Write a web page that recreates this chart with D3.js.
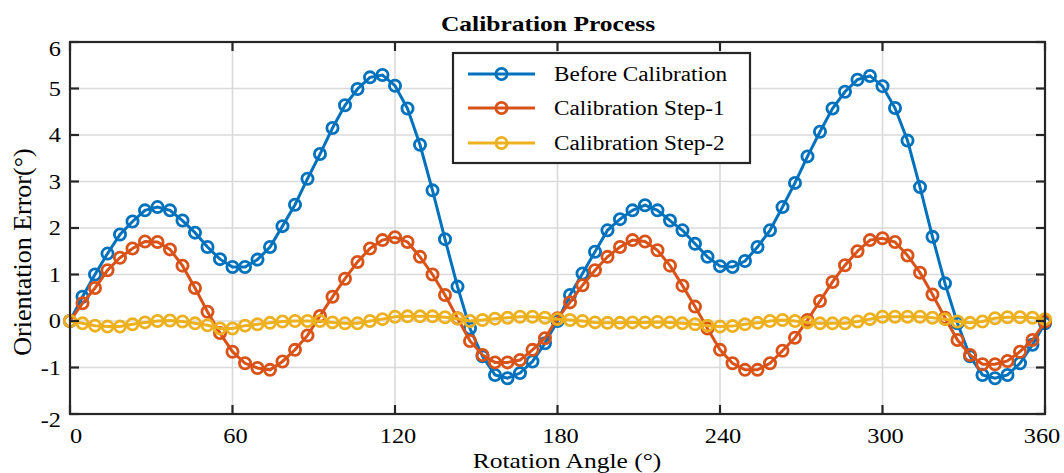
<!DOCTYPE html>
<html>
<head>
<meta charset="utf-8">
<script src="https://cdn.jsdelivr.net/npm/d3@7"></script>
<style>
  body { margin: 0; background: #fff; }
  text { font-family: "Liberation Serif", "Times New Roman", serif; fill: #000; }
</style>
</head>
<body>
<div class="calib-plot"></div>
<script>

const angles = [0, 4.62, 9.23, 13.85, 18.46, 23.08, 27.69, 32.31, 36.92, 41.54, 46.15, 50.77, 55.38,
  60, 64.62, 69.23, 73.85, 78.46, 83.08, 87.69, 92.31, 96.92, 101.54, 106.15, 110.77, 115.38,
  120, 124.62, 129.23, 133.85, 138.46, 143.08, 147.69, 152.31, 156.92, 161.54, 166.15, 170.77, 175.38,
  180, 184.62, 189.23, 193.85, 198.46, 203.08, 207.69, 212.31, 216.92, 221.54, 226.15, 230.77, 235.38,
  240, 244.62, 249.23, 253.85, 258.46, 263.08, 267.69, 272.31, 276.92, 281.54, 286.15, 290.77, 295.38,
  300, 304.62, 309.23, 313.85, 318.46, 323.08, 327.69, 332.31, 336.92, 341.54, 346.15, 350.77, 355.38, 360];

const beforeCal = [0, 0.52, 1.0, 1.45, 1.86, 2.14, 2.38, 2.45, 2.38, 2.16, 1.9, 1.59, 1.33,
  1.16, 1.16, 1.32, 1.59, 2.04, 2.5, 3.06, 3.59, 4.15, 4.64, 4.99, 5.24, 5.29,
  5.06, 4.57, 3.79, 2.81, 1.76, 0.74, -0.16, -0.76, -1.16, -1.23, -1.12, -0.87, -0.48,
  0.0, 0.56, 1.02, 1.49, 1.95, 2.19, 2.38, 2.49, 2.38, 2.16, 1.95, 1.66, 1.38,
  1.18, 1.16, 1.29, 1.59, 1.95, 2.45, 2.97, 3.54, 4.07, 4.57, 4.93, 5.19, 5.27,
  5.05, 4.58, 3.88, 2.88, 1.81, 0.81, -0.05, -0.76, -1.16, -1.23, -1.16, -0.91, -0.51, -0.05];

const calStep1 = [0, 0.38, 0.71, 1.09, 1.36, 1.56, 1.71, 1.70, 1.54, 1.19, 0.71, 0.2, -0.26,
  -0.66, -0.91, -1.01, -1.05, -0.87, -0.62, -0.31, 0.11, 0.52, 0.91, 1.27, 1.56, 1.74,
  1.80, 1.70, 1.38, 1.0, 0.56, 0.06, -0.43, -0.73, -0.89, -0.89, -0.84, -0.62, -0.37,
  0.06, 0.4, 0.77, 1.09, 1.38, 1.59, 1.74, 1.71, 1.52, 1.19, 0.76, 0.31, -0.16,
  -0.62, -0.91, -1.05, -1.05, -0.91, -0.64, -0.36, 0.02, 0.43, 0.84, 1.2, 1.5, 1.74,
  1.78, 1.7, 1.41, 1.04, 0.57, 0.07, -0.41, -0.73, -0.93, -0.93, -0.86, -0.66, -0.41, -0.01];

const calStep2 = [0, -0.05, -0.1, -0.12, -0.12, -0.07, -0.03, 0, 0.01, -0.01, -0.05, -0.09, -0.16,
  -0.16, -0.1, -0.07, -0.04, -0.01, 0, 0, 0, -0.03, -0.05, -0.05, 0, 0.04,
  0.09, 0.1, 0.1, 0.1, 0.08, 0.05, 0.0, 0.02, 0.05, 0.07, 0.09, 0.09, 0.07,
  0.04, 0.02, 0, -0.03, -0.04, -0.04, -0.03, -0.03, -0.02, -0.03, -0.05, -0.07, -0.1,
  -0.12, -0.11, -0.07, -0.04, 0, 0.02, 0, -0.03, -0.05, -0.05, -0.05, -0.01, 0.04,
  0.09, 0.09, 0.09, 0.09, 0.07, 0.04, -0.01, -0.04, -0.01, 0.06, 0.08, 0.08, 0.07, 0.04];

const seriesNames = ['Before Calibration', 'Calibration Step-1', 'Calibration Step-2'];
const seriesColors = ['#0072BD', '#D95319', '#EDB120'];
const xTicks = [0, 60, 120, 180, 240, 300, 360];
const yTicks = [-2, -1, 0, 1, 2, 3, 4, 5, 6];

const width = 1064;
const height = 473;
const m_left = 70, m_right = 1045, m_top = 42, m_bottom = 414;
const tick_len = 9;
const stretch = 1.16; // text in the source looks a bit wide

const svg = d3
  .select('.calib-plot')
  .append('svg')
  .attr('width', width)
  .attr('height', height);

const x = d3.scaleLinear().domain([0, 360]).range([m_left, m_right]);
const y = d3.scaleLinear().domain([-2, 6]).range([m_bottom, m_top]);

const place = (px, py) => `translate(${px},${py}) scale(${stretch},1)`;

// grid
svg.selectAll('.xgrid')
  .data(xTicks.slice(1, -1))
  .enter()
  .append('line')
  .attr('x1', d => x(d)).attr('x2', d => x(d))
  .attr('y1', m_top).attr('y2', m_bottom)
  .attr('stroke', '#dadada')
  .attr('stroke-width', 1.6);

svg.selectAll('.ygrid')
  .data(yTicks.slice(1, -1))
  .enter()
  .append('line')
  .attr('x1', m_left).attr('x2', m_right)
  .attr('y1', d => y(d)).attr('y2', d => y(d))
  .attr('stroke', '#dadada')
  .attr('stroke-width', 1.6);

// series
const allSeries = [beforeCal, calStep1, calStep2];
const line = d3.line()
  .x((d, i) => x(angles[i]))
  .y(d => y(d));

allSeries.forEach((vals, k) => {
  const g = svg.append('g');
  g.append('path')
    .datum(vals)
    .attr('d', line)
    .attr('fill', 'none')
    .attr('stroke', seriesColors[k])
    .attr('stroke-width', 3);
  g.selectAll('circle')
    .data(vals)
    .enter()
    .append('circle')
    .attr('cx', (d, i) => x(angles[i]))
    .attr('cy', d => y(d))
    .attr('r', 5.6)
    .attr('fill', 'none')
    .attr('stroke', seriesColors[k])
    .attr('stroke-width', 2.8);
});

// axes box and inward ticks
svg.append('rect')
  .attr('x', m_left).attr('y', m_top)
  .attr('width', m_right - m_left).attr('height', m_bottom - m_top)
  .attr('fill', 'none')
  .attr('stroke', '#262626')
  .attr('stroke-width', 2.2);

const tickG = svg.append('g').attr('stroke', '#262626').attr('stroke-width', 2.2);
tickG.selectAll('.xtb')
  .data(xTicks)
  .enter()
  .append('line')
  .attr('x1', d => x(d)).attr('x2', d => x(d))
  .attr('y1', m_bottom).attr('y2', m_bottom - tick_len);
tickG.selectAll('.xtt')
  .data(xTicks)
  .enter()
  .append('line')
  .attr('x1', d => x(d)).attr('x2', d => x(d))
  .attr('y1', m_top).attr('y2', m_top + tick_len);
tickG.selectAll('.ytl')
  .data(yTicks)
  .enter()
  .append('line')
  .attr('x1', m_left).attr('x2', m_left + tick_len)
  .attr('y1', d => y(d)).attr('y2', d => y(d));
tickG.selectAll('.ytr')
  .data(yTicks)
  .enter()
  .append('line')
  .attr('x1', m_right).attr('x2', m_right - tick_len)
  .attr('y1', d => y(d)).attr('y2', d => y(d));

// tick labels
svg.selectAll('.xlab')
  .data(xTicks)
  .enter()
  .append('text')
  .text(d => d)
  .attr('transform', (d, i) => place(x(d) + (i == 0 ? 6 : (i == xTicks.length - 1 ? -3 : 3)), 443))
  .attr('text-anchor', 'middle')
  .attr('font-size', 21);

svg.selectAll('.ylab')
  .data(yTicks)
  .enter()
  .append('text')
  .text(d => d)
  .attr('transform', d => place(61, y(d) + (d == 6 ? 14 : (d == -2 ? 13 : 7))))
  .attr('text-anchor', 'end')
  .attr('font-size', 21);

// titles
svg.append('text')
  .text('Calibration Process')
  .attr('transform', place(548, 31))
  .attr('text-anchor', 'middle')
  .attr('font-weight', 'bold')
  .attr('font-size', 22);

svg.append('text')
  .text('Rotation Angle (°)')
  .attr('transform', place(567, 468))
  .attr('text-anchor', 'middle')
  .attr('font-size', 22);

svg.append('text')
  .text('Orientation Error(°)')
  .attr('transform', 'translate(31,252) rotate(-90)')
  .attr('text-anchor', 'middle')
  .attr('font-size', 26);

// legend
const legend = svg.append('g');
legend.append('rect')
  .attr('x', 453).attr('y', 53)
  .attr('width', 297).attr('height', 110)
  .attr('fill', '#fff')
  .attr('stroke', '#262626')
  .attr('stroke-width', 2.2);

const rowY = [74, 108, 143];
seriesNames.forEach((name, k) => {
  legend.append('line')
    .attr('x1', 468).attr('x2', 535)
    .attr('y1', rowY[k]).attr('y2', rowY[k])
    .attr('stroke', seriesColors[k])
    .attr('stroke-width', 3);
  legend.append('circle')
    .attr('cx', 501.5).attr('cy', rowY[k])
    .attr('r', 5.6)
    .attr('fill', 'none')
    .attr('stroke', seriesColors[k])
    .attr('stroke-width', 2.8);
  legend.append('text')
    .text(name)
    .attr('transform', place(554, rowY[k] + 7))
    .attr('font-size', 20);
});
</script>
</body>
</html>
